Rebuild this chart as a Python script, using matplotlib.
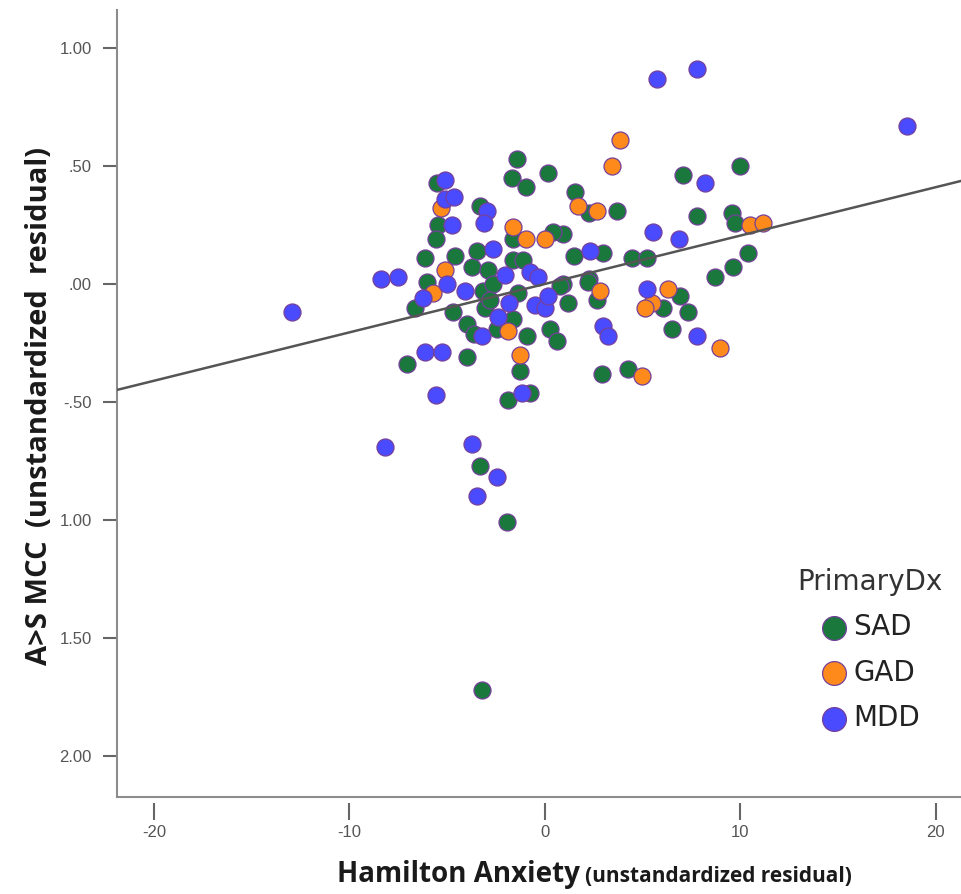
import numpy as np
import matplotlib
matplotlib.use("Agg")
import matplotlib.pyplot as plt

# values
sad_x = [-1.43, -1.69, -0.97, 0.15, -5.52, -3.32, -5.47, -5.58, -6.14, -4.60, -3.48, -3.73,
         -6.04, -2.92, -1.64, -1.64, 1.53, 2.25, 3.68, 0.92, 0.41, 1.48, 2.97, 4.45, 5.22,
         -1.13, 2.25, 0.92, 7.06, 9.97, 7.77, 9.57, 9.72, 10.38, 9.62, 8.70, 6.91, 7.31,
         6.04, 6.50, -6.65, -4.71, -3.99, -3.63, -7.06, -3.99, -1.89, -1.28, -0.92, -2.46,
         -3.17, -3.07, -2.66, -3.32, -1.94, -3.22, 1.18, 0.77, 2.20, 2.66, 0.26, 0.61,
         -0.77, 2.92, 4.25, -1.64, -1.38, -2.81]
sad_y = [0.53, 0.45, 0.41, 0.47, 0.43, 0.33, 0.25, 0.19, 0.11, 0.12, 0.14, 0.07,
         0.01, 0.06, 0.10, 0.19, 0.39, 0.30, 0.31, 0.21, 0.22, 0.12, 0.13, 0.11, 0.11,
         0.10, 0.02, 0.00, 0.46, 0.50, 0.29, 0.30, 0.26, 0.13, 0.07, 0.03, -0.05, -0.12,
         -0.10, -0.19, -0.10, -0.12, -0.17, -0.21, -0.34, -0.31, -0.49, -0.37, -0.22, -0.19,
         -0.03, -0.10, 0.00, -0.77, -1.01, -1.72, -0.08, -0.01, 0.01, -0.07, -0.19, -0.24,
         -0.46, -0.38, -0.36, -0.15, -0.04, -0.07]

gad_x = [3.84, 3.43, 1.69, 2.66, -1.64, -0.97, 0.00, -5.12, -5.32, -5.73, -1.89, -1.28,
         2.81, 6.29, 5.47, 5.12, 4.96, 8.95, 10.49, 11.15]
gad_y = [0.61, 0.50, 0.33, 0.31, 0.24, 0.19, 0.19, 0.06, 0.32, -0.04, -0.20, -0.30,
         -0.03, -0.02, -0.08, -0.10, -0.39, -0.27, 0.25, 0.26]

mdd_x = [-12.94, -8.39, -7.52, -8.18, -6.24, -6.14, -5.27, -5.58, -5.12, -5.12, -4.65,
         -4.76, -5.01, -4.09, -3.73, -3.48, -2.46, -2.97, -3.12, -3.22, -2.66, -2.40,
         -2.05, -1.84, -0.77, -1.18, -0.51, 0.00, 0.15, 2.30, 2.97, 3.22, 5.73, 7.77,
         8.18, 5.52, 6.85, 5.22, 7.77, 18.52, -0.36]
mdd_y = [-0.12, 0.02, 0.03, -0.69, -0.06, -0.29, -0.29, -0.47, 0.44, 0.36, 0.37,
         0.25, 0.00, -0.03, -0.68, -0.90, -0.82, 0.31, 0.26, -0.22, 0.15, -0.14,
         0.04, -0.08, 0.05, -0.46, -0.09, -0.10, -0.05, 0.14, -0.18, -0.22, 0.87, 0.91,
         0.43, 0.22, 0.19, -0.02, -0.22, 0.67, 0.03]

fit_slope = 0.0205
fit_intercept = 0.0

xticks = [-20, -10, 0, 10, 20]
xtick_labels = ["-20", "-10", "0", "10", "20"]
yticks = [1.0, 0.5, 0.0, -0.5, -1.0, -1.5, -2.0]
ytick_labels = ["1.00", ".50", ".00", "-.50", "1.00", "1.50", "2.00"]

W, H = 962, 894
fig = plt.figure(figsize=(W / 100, H / 100), dpi=100)
ax = fig.add_axes([117 / W, 1 - 797 / H, 1 - 117 / W, (797 - 10) / H])
ax.set_xlim(-21.9, 21.35)
ax.set_ylim(-2.174, 1.161)

edge = "#74409a"
ax.scatter(sad_x, sad_y, s=150, c="#1a783c", edgecolors=edge, linewidths=0.9, label="SAD", zorder=2)
ax.scatter(gad_x, gad_y, s=150, c="#ff8a1c", edgecolors=edge, linewidths=0.9, label="GAD", zorder=3)
ax.scatter(mdd_x, mdd_y, s=150, c="#4a4aff", edgecolors=edge, linewidths=0.9, label="MDD", zorder=4)

xf = np.array(ax.get_xlim())
ax.plot(xf, fit_intercept + fit_slope * xf, color="#555555", lw=1.8, zorder=5)

for s in ["top", "right"]:
    ax.spines[s].set_visible(False)
ax.spines["left"].set_color("#8c8c8c")
ax.spines["left"].set_linewidth(1.5)
ax.spines["bottom"].set_position(("outward", 4))
ax.spines["bottom"].set_visible(False)
ax.plot([0, 1], [0, 0], transform=ax.transAxes, color="#8c8c8c", lw=1.5, clip_on=False)

ax.set_xticks(xticks)
ax.set_xticklabels(xtick_labels)
ax.set_yticks(yticks)
ax.set_yticklabels(ytick_labels)
ax.tick_params(axis="x", length=12, width=1.5, color="#666666", labelcolor="#555555",
               labelsize=12, pad=4)
ax.tick_params(axis="y", length=10, width=1.5, color="#666666", labelcolor="#555555",
               labelsize=12, pad=8)
for lab in ax.get_xticklabels() + ax.get_yticklabels():
    lab.set_family(["Liberation Sans Narrow", "Liberation Sans"])

# axis titles, two sizes each
fig.text(580 / W, 1 - 882 / H, "Hamilton Anxiety", ha="right", va="baseline",
         fontsize=20, fontweight="bold", family="Open Sans", color="#1a1a1a")
fig.text(585 / W, 1 - 882 / H, "(unstandardized residual)", ha="left", va="baseline",
         fontsize=15, fontweight="bold", family="Open Sans", color="#1a1a1a")
fig.text(47 / W, 1 - 665 / H, "A>S MCC", rotation=90, rotation_mode="anchor",
         ha="left", va="baseline", fontsize=21, fontweight="bold", family="Open Sans",
         color="#1a1a1a")
fig.text(47 / W, 1 - 527 / H, "(unstandardized  residual)", rotation=90, rotation_mode="anchor",
         ha="left", va="baseline", fontsize=21, fontweight="bold", family="Open Sans",
         color="#1a1a1a")

leg = ax.legend(title="PrimaryDx", loc="center", bbox_to_anchor=(870 / W, 1 - 650 / H),
                bbox_transform=fig.transFigure, frameon=False, fontsize=20,
                title_fontsize=20, markerscale=1.4, handletextpad=0.2,
                labelspacing=0.62, handlelength=1.0)
for t in leg.get_texts():
    t.set_color("#222222")
leg.get_title().set_color("#333333")

fig.savefig("out.png", dpi=100)
